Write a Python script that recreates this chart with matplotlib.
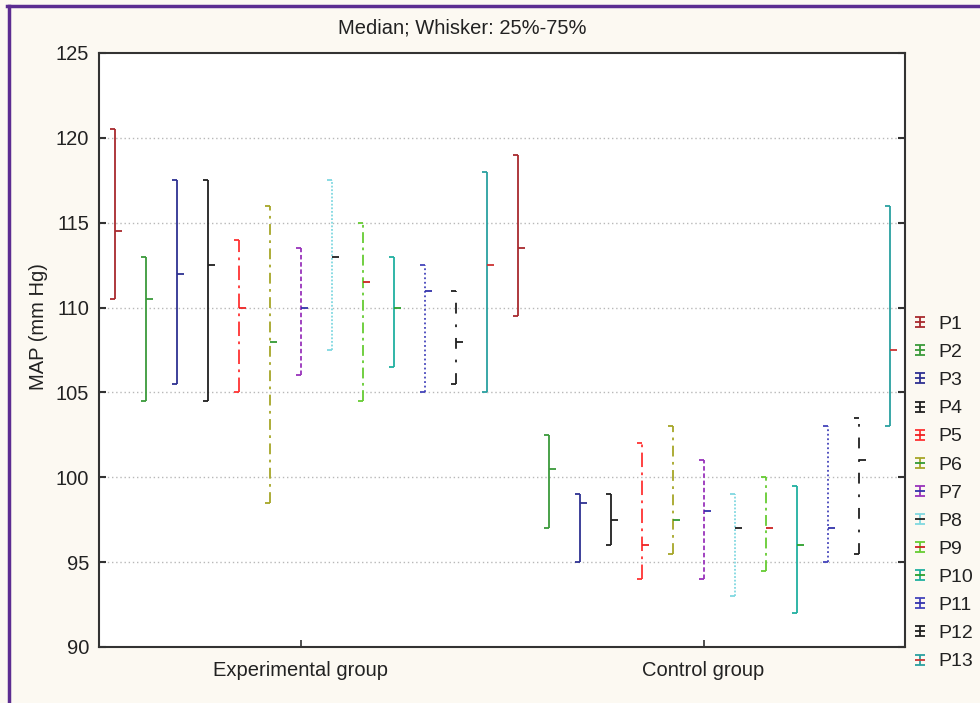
import numpy as np
import matplotlib.pyplot as plt
from matplotlib.path import Path
from matplotlib.lines import Line2D
from matplotlib.legend_handler import HandlerTuple

plt.rcParams['font.family'] = ['Liberation Sans', 'DejaVu Sans']

groups = ['Experimental group', 'Control group']
series = ['P1', 'P2', 'P3', 'P4', 'P5', 'P6', 'P7', 'P8', 'P9', 'P10', 'P11', 'P12', 'P13']

# 75%, 25% and median per series
exp_q3 = [120.5, 113, 117.5, 117.5, 114, 116, 113.5, 117.5, 115, 113, 112.5, 111, 118]
exp_q1 = [110.5, 104.5, 105.5, 104.5, 105, 98.5, 106, 107.5, 104.5, 106.5, 105, 105.5, 105]
exp_med = [114.5, 110.5, 112, 112.5, 110, 108, 110, 113, 111.5, 110, 111, 108, 112.5]

ctl_q3 = [119, 102.5, 99, 99, 102, 103, 101, 99, 100, 99.5, 103, 103.5, 116]
ctl_q1 = [109.5, 97, 95, 96, 94, 95.5, 94, 93, 94.5, 92, 95, 95.5, 103]
ctl_med = [113.5, 100.5, 98.5, 97.5, 96, 97.5, 98, 97, 97, 96, 97, 101, 107.5]

colors = ['#a82a2e', '#3a9a3a', '#2e3192', '#202020', '#ff3333', '#a6a628', '#9933bb',
          '#80d8e0', '#66cc33', '#20b0a0', '#4444bb', '#202020', '#2aa0a0']
med_colors = ['#a82a2e', '#3a9a3a', '#2e3192', '#202020', '#ee2222', '#339933', '#3333aa',
              '#202020', '#cc2222', '#2ca02c', '#3333aa', '#202020', '#cc3333']
styles = ['-', '-', '-', '-', (0, (8, 3, 1.5, 3)), (0, (6, 3, 1.5, 3)), (0, (2.5, 1.5)),
          (0, (1, 1)), (0, (6, 2.5, 1.5, 2.5)), '-', (0, (1, 1.5)), (0, (6, 6, 1.5, 6)), '-']

text_col = '#222222'

fig = plt.figure(figsize=(9.8, 7.03), dpi=100, facecolor='#fcf9f2')
ax = fig.add_axes([99 / 980, 56 / 703, 806 / 980, 594 / 703])
ax.set_facecolor('white')

cap = 0.011
med = 0.018
n = len(series)
data = [(exp_q1, exp_q3, exp_med), (ctl_q1, ctl_q3, ctl_med)]
for g in range(len(groups)):
    q1, q3, md = data[g]
    for i in range(n):
        x = g + (i - 6) / 13.0
        ax.vlines(x, q1[i], q3[i], color=colors[i], linestyle=styles[i], lw=1.3)
        ax.hlines([q1[i], q3[i]], x - cap, x, color=colors[i], lw=1.3)
        ax.hlines(md[i], x, x + med, color=med_colors[i], lw=1.3)

ax.set_xlim(-0.5, 1.5)
ax.set_ylim(90, 125)
ax.set_yticks(np.arange(90, 126, 5))
ax.set_xticks([0, 1])
ax.set_xticklabels(groups)
for y in range(95, 125, 5):
    ax.axhline(y, color='#b8b8b8', lw=1, linestyle=(0, (1, 2)), zorder=0)

for s in ax.spines.values():
    s.set_linewidth(1.5)
    s.set_color('#333333')
ax.tick_params(axis='y', direction='in', length=5, width=1.5, color='#333333',
               right=True, labelsize=14.5, labelcolor=text_col, pad=7)
ax.tick_params(axis='x', direction='in', length=5, width=1.2, color='#333333',
               labelsize=14.5, labelcolor=text_col, pad=10)

fig.text(462 / 980, 1 - 28 / 703, 'Median; Whisker: 25%-75%', ha='center', va='center',
         fontsize=14.5, color=text_col)
fig.text(38 / 980, 1 - 327 / 703, 'MAP (mm Hg)', ha='center', va='center', rotation=90,
         fontsize=14.5, color=text_col)

# legend icons: whisker with median bar
whisk = Path([(-1, 1), (1, 1), (0, 1), (0, -1), (-1, -1), (1, -1)],
             [Path.MOVETO, Path.LINETO, Path.MOVETO, Path.LINETO, Path.MOVETO, Path.LINETO])
bar = Path([(-1, 0), (1, 0)], [Path.MOVETO, Path.LINETO])
handles = []
for i in range(n):
    h1 = Line2D([], [], linestyle='none', marker=whisk, markersize=7, markeredgewidth=1.3,
                markeredgecolor=colors[i], markerfacecolor='none')
    h2 = Line2D([], [], linestyle='none', marker=bar, markersize=7, markeredgewidth=1.3,
                markeredgecolor=med_colors[i], markerfacecolor='none')
    handles.append((h1, h2))
ax.legend(handles, series, handler_map={tuple: HandlerTuple(ndivide=1, pad=0)},
          loc='upper left', bbox_to_anchor=(1.0, 0.568), frameon=False, fontsize=14,
          handlelength=0.9, handletextpad=0.5, labelspacing=0.54, borderpad=0,
          borderaxespad=0.3, labelcolor=text_col)

# purple frame on top and left
fig.add_artist(Line2D([7 / 980, 1], [1 - 5.5 / 703] * 2, color='#5c2d91', lw=2.5))
fig.add_artist(Line2D([8.5 / 980] * 2, [0, 1 - 5.5 / 703], color='#5c2d91', lw=2.5))

fig.savefig('out.png', dpi=100, facecolor=fig.get_facecolor())
